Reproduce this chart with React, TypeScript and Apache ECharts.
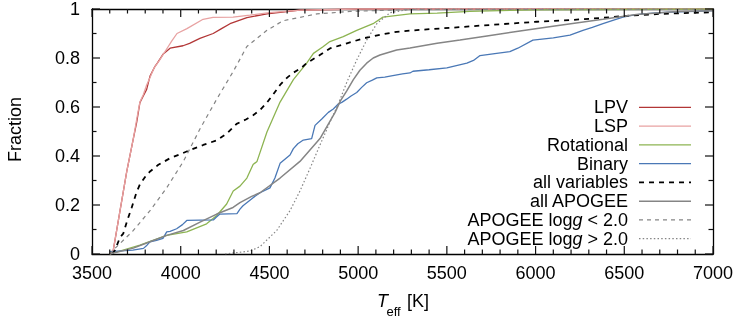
import React, { useEffect, useRef } from "react";
import * as echarts from "echarts";

// ---- data (Teff [K], cumulative fraction) ----
const lpv = [
  [3600, 0], [3620, 0.016], [3658, 0.177], [3696, 0.337], [3733, 0.471], [3752, 0.538],
  [3770, 0.618], [3789, 0.645], [3808, 0.672], [3827, 0.726], [3855, 0.766], [3868, 0.779],
  [3900, 0.815], [3940, 0.84], [4013, 0.85], [4050, 0.86], [4108, 0.88], [4183, 0.9],
  [4230, 0.92], [4278, 0.94], [4373, 0.965], [4486, 0.98], [4672, 0.995], [5000, 1.0], [7000, 1.0],
];
const lsp = [
  [3600, 0], [3620, 0.016], [3658, 0.177], [3696, 0.337], [3733, 0.471], [3752, 0.55],
  [3770, 0.62], [3789, 0.65], [3808, 0.69], [3827, 0.72], [3850, 0.76], [3880, 0.79],
  [3928, 0.845], [3950, 0.87], [3979, 0.9], [4035, 0.92], [4126, 0.958], [4182, 0.966],
  [4295, 0.967], [4390, 0.975], [4500, 0.985], [4672, 0.995], [5000, 1.0], [7000, 1.0],
];
const rotational = [
  [3600, 0], [3770, 0.036], [3921, 0.076], [4034, 0.09], [4146, 0.123], [4203, 0.157],
  [4259, 0.204], [4296, 0.257], [4334, 0.277], [4373, 0.31], [4408, 0.365], [4430, 0.378],
  [4486, 0.498], [4560, 0.62], [4635, 0.712], [4710, 0.779], [4748, 0.819], [4800, 0.845],
  [4841, 0.867], [4916, 0.887], [4992, 0.913], [5050, 0.93], [5084, 0.94], [5140, 0.967],
  [5292, 0.98], [5445, 0.983], [5630, 0.99], [6000, 0.997], [7000, 1.0],
];
const binary = [
  [3600, 0.01], [3730, 0.016], [3790, 0.023], [3810, 0.036], [3827, 0.05], [3864, 0.056],
  [3900, 0.064], [3921, 0.09], [3940, 0.092], [3977, 0.103], [4010, 0.12], [4034, 0.137],
  [4184, 0.139], [4200, 0.15], [4221, 0.163], [4317, 0.165], [4334, 0.183], [4351, 0.197],
  [4408, 0.23], [4447, 0.25], [4503, 0.27], [4531, 0.31], [4560, 0.37], [4616, 0.404],
  [4635, 0.43], [4660, 0.45], [4691, 0.465], [4738, 0.471], [4757, 0.525], [4795, 0.551],
  [4832, 0.578], [4860, 0.592], [4888, 0.612], [4910, 0.62], [4935, 0.632], [4960, 0.645],
  [4992, 0.659], [5020, 0.68], [5048, 0.699], [5080, 0.71], [5105, 0.719], [5150, 0.722],
  [5180, 0.726], [5250, 0.735], [5292, 0.739], [5309, 0.746], [5400, 0.752], [5500, 0.76],
  [5613, 0.779], [5650, 0.79], [5687, 0.81], [5770, 0.818], [5855, 0.826], [5900, 0.84],
  [5985, 0.873], [6100, 0.882], [6194, 0.893], [6267, 0.913], [6320, 0.925], [6380, 0.94],
  [6440, 0.955], [6493, 0.967], [6550, 0.975], [6606, 0.98], [6700, 0.985], [6757, 0.987],
  [6900, 0.99], [7000, 0.993],
];
const allVariables = [
  [3615, 0], [3630, 0.016], [3658, 0.068], [3676, 0.083], [3700, 0.14], [3724, 0.19],
  [3750, 0.25], [3770, 0.284], [3800, 0.315], [3827, 0.337], [3874, 0.364], [3940, 0.391],
  [3996, 0.407], [4052, 0.424], [4127, 0.445], [4203, 0.464], [4259, 0.491], [4315, 0.531],
  [4370, 0.55], [4408, 0.566], [4450, 0.59], [4486, 0.618], [4520, 0.65], [4560, 0.69],
  [4600, 0.72], [4633, 0.739], [4680, 0.76], [4710, 0.779], [4780, 0.81], [4841, 0.839],
  [4937, 0.86], [5029, 0.88], [5123, 0.895], [5217, 0.907], [5350, 0.915], [5535, 0.924],
  [5687, 0.932], [6008, 0.948], [6200, 0.955], [6380, 0.964], [6532, 0.973], [6700, 0.98],
  [7000, 0.987],
];
const allApogee = [
  [3600, 0], [3733, 0.024], [3827, 0.05], [3921, 0.076], [4015, 0.096], [4109, 0.13],
  [4203, 0.163], [4295, 0.19], [4334, 0.21], [4400, 0.235], [4447, 0.25], [4560, 0.31],
  [4672, 0.378], [4785, 0.471], [4840, 0.54], [4870, 0.578], [4900, 0.625], [4935, 0.665],
  [4973, 0.712], [5010, 0.75], [5048, 0.779], [5085, 0.8], [5123, 0.812], [5217, 0.833],
  [5292, 0.841], [5445, 0.86], [5574, 0.873], [5726, 0.89], [5912, 0.91], [6098, 0.93],
  [6380, 0.958], [6568, 0.978], [6800, 0.99], [7000, 0.993],
];
const apogeeLowG = [
  [3600, 0], [3620, 0.016], [3733, 0.096], [3827, 0.177], [3921, 0.27], [4015, 0.378],
  [4109, 0.511], [4203, 0.632], [4296, 0.745], [4373, 0.847], [4486, 0.913], [4577, 0.952],
  [4768, 0.98], [4954, 0.99], [5300, 0.998], [7000, 1.0],
];
const apogeeHighG = [
  [4250, 0], [4390, 0.012], [4447, 0.03], [4541, 0.096], [4616, 0.177], [4672, 0.257],
  [4729, 0.35], [4785, 0.445], [4841, 0.538], [4888, 0.612], [4935, 0.699], [4992, 0.792],
  [5048, 0.873], [5105, 0.94], [5180, 0.985], [5300, 1.0], [7000, 1.0],
];

const seriesNames = [
  "LPV", "LSP", "Rotational", "Binary", "all variables", "all APOGEE",
  "APOGEE log{i|g} < 2.0", "APOGEE log{i|g} > 2.0",
];
const seriesData = [lpv, lsp, rotational, binary, allVariables, allApogee, apogeeLowG, apogeeHighG];

const xTickMin = 3500;
const xTickMax = 7000;
const xTickStep = 500;
const xMinorPerMajor = 5;
const yTickMin = 0;
const yTickMax = 1;
const yTickStep = 0.2;
const yMinorPerMajor = 2;

// ---- styles ----
const FONT = "Liberation Sans, Arial, Helvetica, sans-serif";
const styles = [
  { color: "#b23636", width: 1.3, dash: null as number[] | null },
  { color: "#e8a2a2", width: 1.3, dash: null },
  { color: "#8db452", width: 1.3, dash: null },
  { color: "#4a78b6", width: 1.3, dash: null },
  { color: "#000000", width: 1.8, dash: [5, 5] },
  { color: "#858585", width: 1.5, dash: null },
  { color: "#858585", width: 1.2, dash: [4, 4] },
  { color: "#858585", width: 1.2, dash: [1.5, 2.2] },
];

export default function App() {
  const ref = useRef<HTMLDivElement>(null);
  useEffect(() => {
    if (!ref.current) return;
    const chart = echarts.init(ref.current, null, { renderer: "svg" });
    const H = 332;
    const grid = { left: 92, right: 34, top: 5, bottom: 78 };
    const MAJOR = 8;
    const MINOR = 4.5;

    const mkX = (pos: "top" | "bottom", labels: boolean) => ({
      type: "value" as const,
      position: pos,
      min: xTickMin,
      max: xTickMax,
      interval: xTickStep,
      axisLine: { show: true, onZero: false, lineStyle: { color: "#000", width: 1.3 } },
      axisTick: { show: false },
      minorTick: { show: false },
      splitLine: { show: false },
      minorSplitLine: { show: false },
      axisLabel: {
        show: labels,
        color: "#000",
        fontSize: 18,
        fontFamily: FONT,
        margin: 10,
        showMinLabel: true,
        showMaxLabel: true,
        formatter: (v: number) => String(v),
      },
    });
    const mkY = (pos: "left" | "right", labels: boolean) => ({
      type: "value" as const,
      position: pos,
      min: yTickMin,
      max: yTickMax,
      interval: yTickStep,
      axisLine: { show: true, onZero: false, lineStyle: { color: "#000", width: 1.3 } },
      axisTick: { show: false },
      minorTick: { show: false },
      splitLine: { show: false },
      minorSplitLine: { show: false },
      axisLabel: {
        show: labels,
        color: "#000",
        fontSize: 18,
        fontFamily: FONT,
        margin: 12,
        showMinLabel: true,
        showMaxLabel: true,
        formatter: (v: number) => String(Math.round(v * 10) / 10),
      },
    });

    // tick positions (major + minor) for the mirrored inward ticks
    const xTicks: number[][] = [];
    const xMinorStep = xTickStep / xMinorPerMajor;
    for (let k = 0; xTickMin + k * xMinorStep <= xTickMax + 1e-9; k++) {
      xTicks.push([xTickMin + k * xMinorStep, k % xMinorPerMajor === 0 ? 1 : 0]);
    }
    const yTicks: number[][] = [];
    const yMinorStep = yTickStep / yMinorPerMajor;
    for (let k = 0; yTickMin + k * yMinorStep <= yTickMax + 1e-9; k++) {
      yTicks.push([xTickMin, yTickMin + k * yMinorStep, k % yMinorPerMajor === 0 ? 1 : 0]);
    }
    const tickStyle = { stroke: "#111", lineWidth: 1.2 };

    const tickSeries: any[] = [
      {
        type: "custom",
        silent: true,
        clip: false,
        z: 30,
        xAxisIndex: 0,
        yAxisIndex: 0,
        data: xTicks,
        renderItem: (_p: any, api: any) => {
          const v = api.value(0);
          const len = api.value(1) ? MAJOR : MINOR;
          const b = api.coord([v, yTickMin]);
          const t = api.coord([v, yTickMax]);
          return {
            type: "group",
            children: [
              { type: "line", shape: { x1: b[0], y1: b[1], x2: b[0], y2: b[1] - len }, style: tickStyle },
              { type: "line", shape: { x1: t[0], y1: t[1], x2: t[0], y2: t[1] + len }, style: tickStyle },
            ],
          };
        },
      },
      {
        type: "custom",
        silent: true,
        clip: false,
        z: 30,
        xAxisIndex: 0,
        yAxisIndex: 0,
        data: yTicks,
        renderItem: (_p: any, api: any) => {
          const v = api.value(1);
          const len = api.value(2) ? MAJOR : MINOR;
          const l = api.coord([xTickMin, v]);
          const r = api.coord([xTickMax, v]);
          return {
            type: "group",
            children: [
              { type: "line", shape: { x1: l[0], y1: l[1], x2: l[0] + len, y2: l[1] }, style: tickStyle },
              { type: "line", shape: { x1: r[0], y1: r[1], x2: r[0] - len, y2: r[1] }, style: tickStyle },
            ],
          };
        },
      },
    ];

    const series = seriesData.map((d, i) => ({
      type: "line" as const,
      name: seriesNames[i],
      data: d,
      xAxisIndex: 0,
      yAxisIndex: 0,
      showSymbol: false,
      symbol: "none",
      silent: true,
      lineStyle: {
        color: styles[i].color,
        width: styles[i].width,
        type: styles[i].dash ? styles[i].dash : "solid",
      },
      z: 2 + i,
    }));

    const legendRight = 628;
    const lineX1 = 639;
    const lineX2 = 691;
    const rowY0 = 107.3;
    const rowStep = 18.77;
    const legendEls: any[] = [];
    seriesNames.forEach((name, i) => {
      const y = rowY0 + rowStep * i;
      legendEls.push({
        type: "text",
        x: legendRight,
        y,
        silent: true,
        style: {
          text: name,
          fill: "#000",
          fontSize: 18,
          fontFamily: FONT,
          align: "right",
          verticalAlign: "middle",
          rich: {
            i: { fontStyle: "italic", fontSize: 18, fontFamily: FONT, fill: "#000" },
          },
        },
      });
      legendEls.push({
        type: "line",
        silent: true,
        shape: { x1: lineX1, y1: y, x2: lineX2, y2: y },
        style: {
          stroke: styles[i].color,
          lineWidth: styles[i].width,
          lineDash: styles[i].dash || undefined,
        },
      });
    });

    const titleEls: any[] = [
      {
        type: "text",
        x: 15,
        y: (grid.top + (H - grid.bottom)) / 2,
        rotation: Math.PI / 2,
        silent: true,
        style: {
          text: "Fraction",
          fill: "#000",
          fontSize: 18,
          fontFamily: FONT,
          align: "center",
          verticalAlign: "middle",
        },
      },
      {
        type: "text",
        x: 377,
        y: 300.5,
        silent: true,
        style: {
          text: "T",
          fill: "#000",
          fontSize: 18,
          fontStyle: "italic",
          fontFamily: FONT,
          align: "left",
          verticalAlign: "middle",
        },
      },
      {
        type: "text",
        x: 386.5,
        y: 311.5,
        silent: true,
        style: {
          text: "eff",
          fill: "#000",
          fontSize: 13,
          fontFamily: FONT,
          align: "left",
          verticalAlign: "middle",
        },
      },
      {
        type: "text",
        x: 407,
        y: 300.5,
        silent: true,
        style: {
          text: "[K]",
          fill: "#000",
          fontSize: 18,
          fontFamily: FONT,
          align: "left",
          verticalAlign: "middle",
        },
      },
    ];

    chart.setOption({
      animation: false,
      grid,
      xAxis: [mkX("bottom", true), mkX("top", false)],
      yAxis: [mkY("left", true), mkY("right", false)],
      series: [...series, ...tickSeries],
      graphic: [...legendEls, ...titleEls],
    });
    return () => chart.dispose();
  }, []);

  return (
    <div
      ref={ref}
      style={{ position: "fixed", left: 0, top: 0, width: 747, height: 332 }}
    />
  );
}
